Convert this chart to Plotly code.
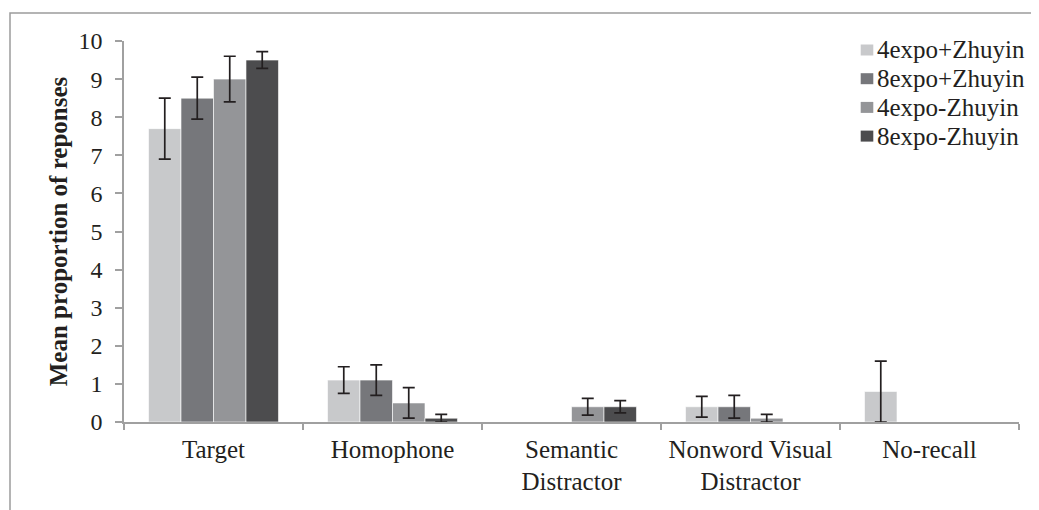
import numpy as np
import plotly.graph_objects as go

categories = ["Target", "Homophone", "Semantic<br>Distractor", "Nonword Visual<br>Distractor", "No-recall"]
series_names = ["4expo+Zhuyin", "8expo+Zhuyin", "4expo-Zhuyin", "8expo-Zhuyin"]
s1_vals = [7.7, 1.1, 0.0, 0.4, 0.8]
s2_vals = [8.5, 1.1, 0.0, 0.4, 0.0]
s3_vals = [9.0, 0.5, 0.4, 0.1, 0.0]
s4_vals = [9.5, 0.1, 0.4, 0.0, 0.0]
s1_err = [0.8, 0.35, np.nan, 0.27, 0.8]
s2_err = [0.55, 0.4, np.nan, 0.3, np.nan]
s3_err = [0.6, 0.4, 0.22, 0.1, np.nan]
s4_err = [0.22, 0.1, 0.16, np.nan, np.nan]
colors = ["#c8c9cb", "#76777b", "#949598", "#4c4c4e"]
y_ticks = list(range(0, 11))

FONT = "Liberation Serif"
TXT = "#231f20"

# figure geometry (page body has an 8px margin)
W, H = 1031, 502
ML, MR, MT, MB = 116, 20, 33, 88
PW, PH = W - ML - MR, H - MT - MB

fig = go.Figure()
for name, vals, errs, col in zip(series_names,
                                 [s1_vals, s2_vals, s3_vals, s4_vals],
                                 [s1_err, s2_err, s3_err, s4_err],
                                 colors):
    fig.add_trace(go.Bar(
        name=name, x=categories, y=np.array(vals, dtype=float),
        marker=dict(color=col, line=dict(color="white", width=0.6)),
        error_y=dict(type="data", array=np.array(errs, dtype=float), visible=True,
                     color=TXT, thickness=1.7, width=6),
        showlegend=False,
    ))

fig.update_layout(
    width=W, height=H,
    margin=dict(l=ML, r=MR, t=MT, b=MB),
    paper_bgcolor="white", plot_bgcolor="white",
    barmode="group", bargap=0.274, bargroupgap=0,
    font=dict(family=FONT, size=25, color=TXT),
    xaxis=dict(showline=True, linecolor="#a0a0a0", linewidth=1.6,
               ticks="outside", tickson="boundaries", ticklen=6, tickcolor="#a0a0a0",
               tickwidth=1.6, showgrid=False, zeroline=False, ticklabelstandoff=4,
               tickfont=dict(family=FONT, size=25, color=TXT)),
    yaxis=dict(range=[0, 10], tickvals=y_ticks, showline=True, linecolor="#a0a0a0",
               linewidth=1.6, ticks="outside", ticklen=7, tickcolor="#a0a0a0", tickwidth=1.6,
               showgrid=False, zeroline=False, ticklabelstandoff=8,
               tickfont=dict(family=FONT, size=24, color=TXT),
               title=dict(text="<b>Mean proportion of reponses</b>",
                          font=dict(family=FONT, size=25, color=TXT), standoff=4)),
)

# manual legend (tighter row spacing than plotly's built-in legend)
leg_x0 = 852.7   # square left, figure px
sq_w, sq_h = 12.6, 11
row0, row_gap = 42, 28.7
for i, (name, col) in enumerate(zip(series_names, colors)):
    yc = row0 + i * row_gap
    py = (H - MB - yc) / PH
    fig.add_shape(type="rect", xref="paper", yref="paper",
                  x0=(leg_x0 - ML) / PW, x1=(leg_x0 + sq_w - ML) / PW,
                  y0=py - sq_h / 2 / PH, y1=py + sq_h / 2 / PH,
                  line=dict(width=0), fillcolor=col)
    fig.add_annotation(xref="paper", yref="paper", x=(leg_x0 + sq_w + 3 - ML) / PW, y=py,
                       xanchor="left", yanchor="middle", showarrow=False, text=name,
                       font=dict(family=FONT, size=25, color=TXT), borderpad=0)

# outer frame
fig.add_shape(type="rect", xref="paper", yref="paper",
              x0=(2 - ML) / PW, x1=1.2, y0=-0.6, y1=(H - MB - 5) / PH,
              line=dict(color="#9c9c9c", width=1.5), fillcolor="rgba(0,0,0,0)", layer="below")

fig.write_html("out.html")
